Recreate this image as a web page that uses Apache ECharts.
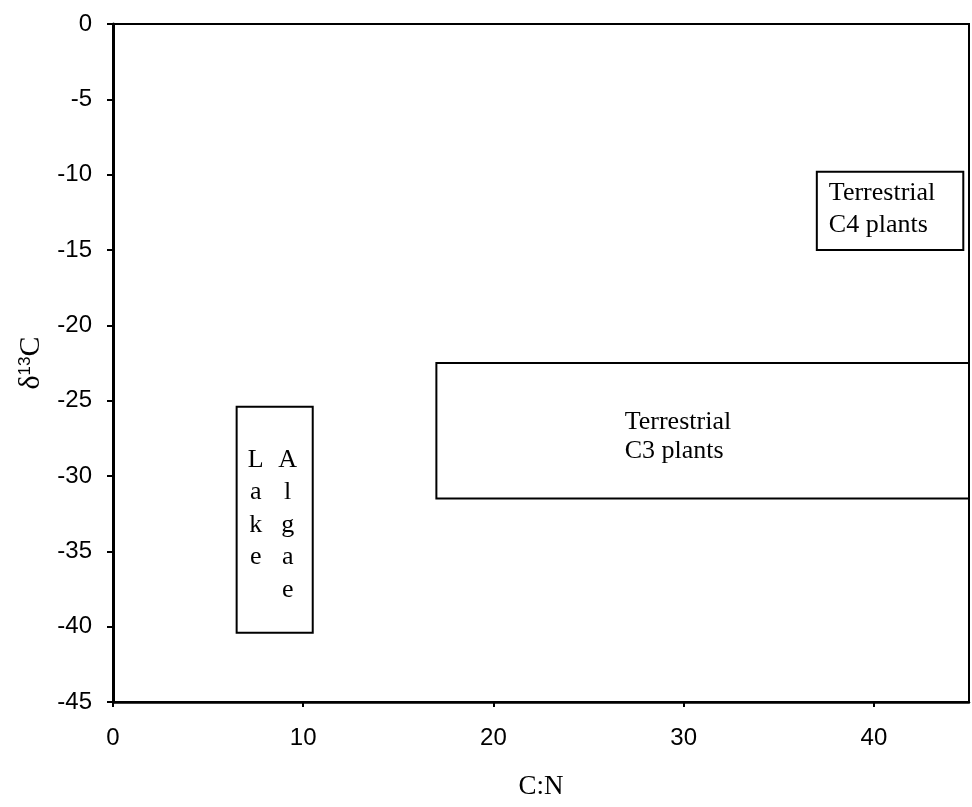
<!DOCTYPE html>
<html>
<head>
<meta charset="utf-8">
<script src="https://cdn.jsdelivr.net/npm/echarts@6/dist/echarts.min.js"></script>
<style>
  html, body { margin: 0; padding: 0; background: #fff; }
  #chart { width: 972px; height: 807px; }
</style>
</head>
<body>
<div id="chart"></div>
<script>
// axis ticks
const xTicks = [0, 10, 20, 30, 40];
const yTicks = [0, -5, -10, -15, -20, -25, -30, -35, -40, -45];

// source boxes (C:N range, d13C range)
const boxNames = ['Lake Algae', 'Terrestrial C3 plants', 'Terrestrial C4 plants'];
const boxCN0 = [6.5, 17, 37];
const boxCN1 = [10.5, 45, 44.7];
const boxC13lo = [-40.4, -31.5, -15];
const boxC13hi = [-25.4, -22.5, -9.8];
const boxText = [
  ['L\na\nk\ne', 'A\nl\ng\na\ne'],
  ['Terrestrial\nC3 plants'],
  ['Terrestrial\nC4 plants']
];

const serif = '"Liberation Serif", "Times New Roman", serif';
const sans = '"Liberation Sans", Arial, sans-serif';

const boxData = boxNames.map((n, i) => [boxCN0[i], boxCN1[i], boxC13lo[i], boxC13hi[i]]);

function labelEls(i, left, top, w, h) {
  const cx = left + w / 2, cy = top + h / 2;
  const base = { fill: '#000', fontSize: 26, fontFamily: serif };
  if (i === 0) {
    return [
      { type: 'text', style: Object.assign({}, base, { text: boxText[0][0], x: cx - 19, y: top + 37, align: 'center', verticalAlign: 'top', lineHeight: 32.5 }) },
      { type: 'text', style: Object.assign({}, base, { text: boxText[0][1], x: cx + 13, y: top + 37, align: 'center', verticalAlign: 'top', lineHeight: 32.5 }) }
    ];
  }
  if (i === 1) {
    return [{ type: 'text', style: Object.assign({}, base, { text: boxText[1][0], x: cx - 78, y: cy + 6, align: 'left', verticalAlign: 'middle', lineHeight: 29 }) }];
  }
  return [{ type: 'text', style: Object.assign({}, base, { text: boxText[2][0], x: left + 12, y: cy - 2, align: 'left', verticalAlign: 'middle', lineHeight: 32 }) }];
}

const chart = echarts.init(document.getElementById('chart'));
chart.setOption({
  animation: false,
  backgroundColor: '#fff',
  grid: {
    left: 113, right: 3, top: 24, bottom: 105,
    show: true, borderColor: '#000', borderWidth: 2
  },
  xAxis: {
    type: 'value', min: xTicks[0], max: 45, interval: 10,
    name: 'C:N', nameLocation: 'middle', nameGap: 71,
    nameTextStyle: { fontFamily: serif, fontSize: 27, color: '#000' },
    axisLine: { show: true, onZero: false, lineStyle: { color: '#000', width: 2.5 } },
    axisTick: { show: true, length: 5, lineStyle: { color: '#000', width: 2 } },
    axisLabel: { margin: 24, fontFamily: sans, fontSize: 24, color: '#000', showMaxLabel: false },
    splitLine: { show: false }
  },
  yAxis: {
    type: 'value', min: yTicks[yTicks.length - 1], max: yTicks[0], interval: 5,
    name: '{d|δ}{s|13}{d|C}', nameLocation: 'middle', nameGap: 66, nameRotate: 90,
    nameTextStyle: {
      color: '#000',
      rich: {
        d: { fontFamily: serif, fontSize: 30, color: '#000' },
        s: { fontFamily: sans, fontSize: 17, color: '#000', verticalAlign: 'top', padding: [0, 0, 13, 0] }
      }
    },
    axisLine: { show: true, onZero: false, lineStyle: { color: '#000', width: 3 } },
    axisTick: { show: true, length: 6, lineStyle: { color: '#000', width: 2 } },
    axisLabel: { margin: 21, fontFamily: sans, fontSize: 24, color: '#000' },
    splitLine: { show: false }
  },
  series: [{
    type: 'custom',
    name: 'boxes',
    data: boxData,
    encode: { x: [0, 1], y: [2, 3] },
    renderItem: function (params, api) {
      const i = params.dataIndex;
      const p0 = api.coord([api.value(0), api.value(3)]);
      const p1 = api.coord([api.value(1), api.value(2)]);
      const w = p1[0] - p0[0], h = p1[1] - p0[1];
      return {
        type: 'group',
        children: [{
          type: 'rect',
          shape: { x: p0[0], y: p0[1], width: w, height: h },
          style: { fill: 'none', stroke: '#000', lineWidth: 2 }
        }].concat(labelEls(i, p0[0], p0[1], w, h))
      };
    }
  }]
});
</script>
</body>
</html>
